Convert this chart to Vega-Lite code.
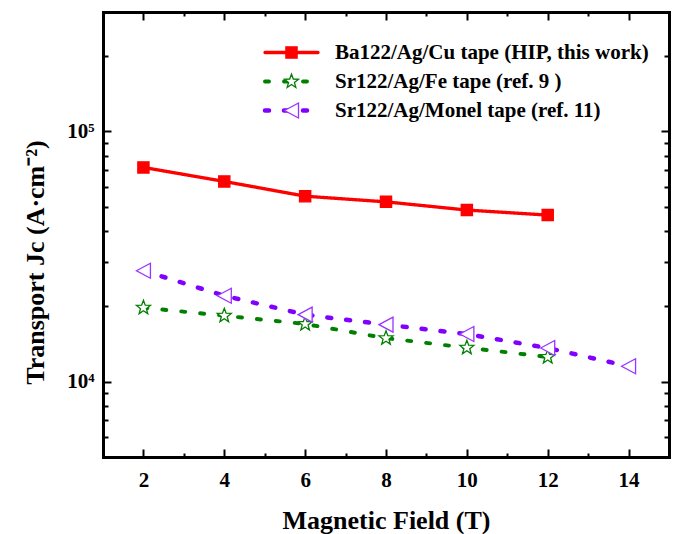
{
  "$schema": "https://vega.github.io/schema/vega-lite/v6.json",
  "width": 566,
  "height": 445,
  "autosize": {"type": "none"},
  "padding": {"left": 103, "top": 12, "right": 9, "bottom": 77},
  "background": "white",
  "config": {"view": {"stroke": null}, "font": "Liberation Serif"},
  "data": {
    "values": [
      {"B": 2, "Jc": 71800, "series": "Ba122/Ag/Cu tape (HIP, this work)"},
      {"B": 4, "Jc": 63100, "series": "Ba122/Ag/Cu tape (HIP, this work)"},
      {"B": 6, "Jc": 55100, "series": "Ba122/Ag/Cu tape (HIP, this work)"},
      {"B": 8, "Jc": 52300, "series": "Ba122/Ag/Cu tape (HIP, this work)"},
      {"B": 10, "Jc": 48500, "series": "Ba122/Ag/Cu tape (HIP, this work)"},
      {"B": 12, "Jc": 46300, "series": "Ba122/Ag/Cu tape (HIP, this work)"},
      {"B": 2, "Jc": 19750, "series": "Sr122/Ag/Fe tape (ref. 9 )"},
      {"B": 4, "Jc": 18350, "series": "Sr122/Ag/Fe tape (ref. 9 )"},
      {"B": 6, "Jc": 17000, "series": "Sr122/Ag/Fe tape (ref. 9 )"},
      {"B": 8, "Jc": 14920, "series": "Sr122/Ag/Fe tape (ref. 9 )"},
      {"B": 10, "Jc": 13670, "series": "Sr122/Ag/Fe tape (ref. 9 )"},
      {"B": 12, "Jc": 12550, "series": "Sr122/Ag/Fe tape (ref. 9 )"},
      {"B": 2, "Jc": 27750, "series": "Sr122/Ag/Monel tape (ref. 11)"},
      {"B": 4, "Jc": 22050, "series": "Sr122/Ag/Monel tape (ref. 11)"},
      {"B": 6, "Jc": 18520, "series": "Sr122/Ag/Monel tape (ref. 11)"},
      {"B": 8, "Jc": 16890, "series": "Sr122/Ag/Monel tape (ref. 11)"},
      {"B": 10, "Jc": 15500, "series": "Sr122/Ag/Monel tape (ref. 11)"},
      {"B": 12, "Jc": 13630, "series": "Sr122/Ag/Monel tape (ref. 11)"},
      {"B": 14, "Jc": 11520, "series": "Sr122/Ag/Monel tape (ref. 11)"}
    ]
  },
  "layer": [
    {
      "mark": {"type": "line", "strokeCap": "round"},
      "encoding": {
        "x": {
          "field": "B", "type": "quantitative",
          "scale": {"domain": [1, 15], "nice": false, "zero": false},
          "axis": {
            "orient": "bottom",
            "values": [2, 3, 4, 5, 6, 7, 8, 9, 10, 11, 12, 13, 14],
            "labelExpr": "datum.value % 2 == 0 ? datum.label : ''",
            "tickSize": {"condition": {"test": "datum.value % 2 == 0", "value": -8}, "value": -4},
            "tickWidth": 2, "tickColor": "black",
            "domainColor": "black", "domainWidth": 3, "domainCap": "square",
            "labelFont": "Liberation Serif", "labelFontSize": 21, "labelFontWeight": "bold", "labelColor": "black",
            "labelPadding": 20, "labelFlush": false, "labelOverlap": false,
            "grid": false,
            "title": "Magnetic Field (T)",
            "titleFont": "Liberation Serif", "titleFontSize": 26, "titleFontWeight": "bold", "titleColor": "black",
            "titleBaseline": "alphabetic", "titleY": 71.5, "titleX": 283
          }
        },
        "y": {
          "field": "Jc", "type": "quantitative",
          "scale": {"type": "log", "domain": [5000, 300000], "nice": false},
          "axis": {
            "orient": "left",
            "values": [6000, 7000, 8000, 9000, 10000, 20000, 30000, 40000, 50000, 60000, 70000, 80000, 90000, 100000, 200000],
            "labelExpr": "datum.value == 10000 ? '10⁴' : datum.value == 100000 ? '10⁵' : ''",
            "tickSize": {"condition": {"test": "datum.value == 10000 || datum.value == 100000", "value": -8}, "value": -5},
            "tickWidth": 2, "tickColor": "black",
            "domainColor": "black", "domainWidth": 3, "domainCap": "square",
            "labelFont": "Liberation Serif", "labelFontSize": 21, "labelFontWeight": "bold", "labelColor": "black",
            "labelPadding": 17, "labelFlush": false, "labelOverlap": false,
            "grid": false,
            "title": "Transport Jc (A·cm⁻²)",
            "titleFont": "Liberation Serif", "titleFontSize": 26, "titleFontWeight": "bold", "titleColor": "black",
            "titleAngle": -90, "titleBaseline": "alphabetic", "titleAlign": "center",
            "titleX": -60, "titleY": 250
          }
        },
        "color": {
          "field": "series", "type": "nominal",
          "scale": {"range": ["#FF0000", "#007F00", "#8000FF"]},
          "legend": {
            "orient": "none", "legendX": 178, "legendY": 30, "title": null, "padding": 0,
            "symbolType": "M-5.3,0H5.3", "symbolSize": 100, "symbolStrokeWidth": 4,
            "labelFont": "Liberation Serif", "labelFontSize": 21, "labelFontWeight": "bold", "labelColor": "black",
            "labelOffset": 33, "rowPadding": 7, "labelLimit": 0,
            "encode": {
              "symbols": {
                "update": {
                  "strokeCap": {"value": "round"},
                  "strokeDash": {"signal": "datum.value == 'Ba122/Ag/Cu tape (HIP, this work)' ? [1, 0] : [2.5, 8]"}
                }
              }
            }
          }
        },
        "strokeDash": {
          "field": "series", "type": "nominal",
          "scale": {"range": [[1, 0], [4, 15], [4, 15]]}
        },
        "strokeWidth": {
          "field": "series", "type": "ordinal",
          "scale": {"range": [3.3, 4.5, 4.5]},
          "legend": null
        }
      }
    },
    {
      "mark": {"type": "point", "size": 196, "strokeWidth": 1.3, "opacity": 1},
      "encoding": {
        "x": {
          "field": "B", "type": "quantitative",
          "axis": {
            "orient": "top",
            "values": [2, 3, 4, 5, 6, 7, 8, 9, 10, 11, 12, 13, 14],
            "labels": false,
            "tickSize": {"condition": {"test": "datum.value % 2 == 0", "value": -8}, "value": -4},
            "tickWidth": 2, "tickColor": "black",
            "domainColor": "black", "domainWidth": 3, "domainCap": "square",
            "grid": false, "title": null
          }
        },
        "y": {
          "field": "Jc", "type": "quantitative",
          "axis": {
            "orient": "right",
            "values": [6000, 7000, 8000, 9000, 10000, 20000, 30000, 40000, 50000, 60000, 70000, 80000, 90000, 100000, 200000],
            "labels": false,
            "tickSize": {"condition": {"test": "datum.value == 10000 || datum.value == 100000", "value": -8}, "value": -5},
            "tickWidth": 2, "tickColor": "black",
            "domainColor": "black", "domainWidth": 3, "domainCap": "square",
            "grid": false, "title": null
          }
        },
        "stroke": {
          "field": "series", "type": "nominal",
          "sort": {"field": "Jc", "op": "min", "order": "descending"},
          "scale": {"range": ["#FF0000", "#007F00", "#9933FF"]},
          "legend": {
            "orient": "none", "legendX": 178, "legendY": 30, "title": null, "padding": 0,
            "symbolSize": 196, "symbolStrokeWidth": 1.3, "symbolOpacity": 1,
            "labelFont": "Liberation Serif", "labelFontSize": 21, "labelFontWeight": "bold", "labelOpacity": 0,
            "labelOffset": 33, "rowPadding": 7, "labelLimit": 0
          }
        },
        "fill": {
          "field": "series", "type": "nominal",
          "sort": {"field": "Jc", "op": "min", "order": "descending"},
          "scale": {"range": ["#FF0000", "#FFFFFF", "#FFFFFF"]}
        },
        "shape": {
          "field": "series", "type": "nominal",
          "sort": {"field": "Jc", "op": "min", "order": "descending"},
          "scale": {"range": [
            "M-0.8,-0.8H0.8V0.8H-0.8Z",
            "M0,-1.05L0.259,-0.356L0.999,-0.324L0.418,0.136L0.617,0.849L0,0.44L-0.617,0.849L-0.418,0.136L-0.999,-0.324L-0.259,-0.356Z",
            "M-1,0L1,-1.07L1,1.07Z"
          ]}
        }
      }
    }
  ],
  "resolve": {"axis": {"x": "independent", "y": "independent"}}
}
